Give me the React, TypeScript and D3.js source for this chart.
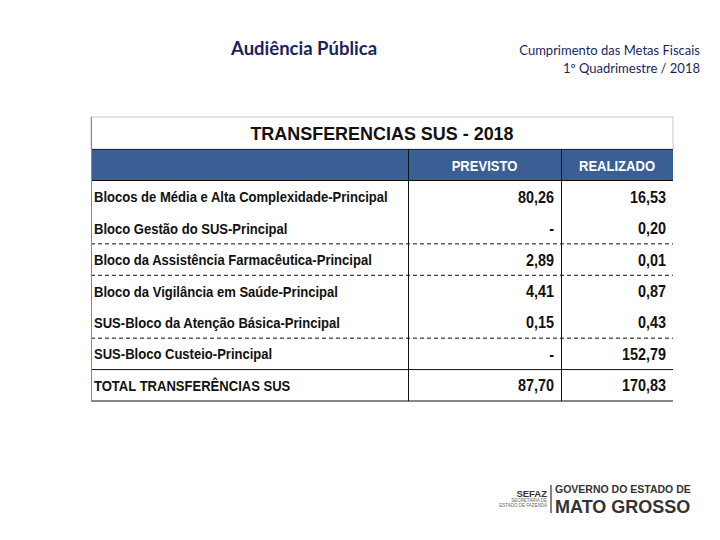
import React from "react";
import * as d3 from "d3";

const title = "TRANSFERENCIAS SUS - 2018";
const columns = ["PREVISTO", "REALIZADO"];
const categories = [
  "Blocos de Média e Alta Complexidade-Principal",
  "Bloco Gestão do SUS-Principal",
  "Bloco da Assistência Farmacêutica-Principal",
  "Bloco da Vigilância em Saúde-Principal",
  "SUS-Bloco da Atenção Básica-Principal",
  "SUS-Bloco Custeio-Principal",
  "TOTAL TRANSFERÊNCIAS SUS",
];
const previsto: (number | null)[] = [80.26, null, 2.89, 4.41, 0.15, null, 87.7];
const realizado: (number | null)[] = [16.53, 0.2, 0.01, 0.87, 0.43, 152.79, 170.83];
const separators = ["none", "dash", "dash", "none", "dash", "solid", "solid"];

const locale = d3.formatLocale({ decimal: ",", thousands: ".", grouping: [3], currency: ["R$", ""] });
const fmt = locale.format(",.2f");

const W = 720;
const H = 540;
const BLUE = "#3A5F94";
const NAVY = "#1c1f5f";
const FONT = "'Liberation Sans', Arial, sans-serif";
const HFONT = "Lato, 'Open Sans', sans-serif";

function NText(props: { x: number; y: number; sx: number; size: number; anchor?: string; fill?: string; children: React.ReactNode }) {
  const { x, y, sx, size, anchor, fill, children } = props;
  return (
    <text
      transform={`translate(${x},${y}) scale(${sx},1)`}
      textAnchor={anchor || "start"}
      fontFamily={FONT}
      fontWeight="bold"
      fontSize={size}
      fill={fill || "#111"}
    >
      {children}
    </text>
  );
}

export default function App() {
  const left = 91;
  const right = 673;
  const top = 117;
  const titleH = 32;
  const headerTop = top + titleH;
  const headerBottom = 181;
  const bottom = 401;

  const x = d3.scaleOrdinal<string, number>().domain(["label", ...columns, "end"]).range([left, 408, 561, right]);
  const y = d3.scaleBand<number>().domain(d3.range(categories.length)).range([headerBottom, bottom]).padding(0);
  const bw = y.bandwidth();

  const numCells = (vals: (number | null)[], col: string, nextCol: string) =>
    vals.map((v, i) => {
      const cy = (y(i) as number) + bw / 2;
      const xr = x(nextCol) - 7;
      return (
        <NText key={col + i} x={xr} y={cy + 6} sx={0.9} size={16} anchor="end">
          {v === null ? "-" : fmt(v)}
        </NText>
      );
    });

  return (
    <svg width={W} height={H} style={{ position: "absolute", left: 0, top: 0, background: "#fff" }}>
      <rect x={0} y={0} width={W} height={H} fill="#fff" />
      {/* page header */}
      <text x={231} y={55} fontFamily={HFONT} fontWeight="bold" fontSize={18.5} fill={NAVY}>
        Audiência Pública
      </text>
      <text x={700} y={55} textAnchor="end" fontFamily={HFONT} fontSize={13} fill={NAVY}>
        Cumprimento das Metas Fiscais
      </text>
      <text x={700} y={73} textAnchor="end" fontFamily={HFONT} fontSize={13} fill={NAVY}>
        1º Quadrimestre / 2018
      </text>

      {/* title row */}
      <rect x={left} y={top} width={right - left} height={titleH} fill="#fff" stroke="#c8c8c8" strokeWidth={1} />
      <NText x={(left + right) / 2} y={top + titleH / 2 + 6.5} sx={0.97} size={18.5} anchor="middle">
        {title}
      </NText>

      {/* header */}
      <rect x={left} y={headerTop} width={right - left} height={headerBottom - headerTop} fill={BLUE} />
      <line x1={left} x2={right} y1={headerTop + 0.5} y2={headerTop + 0.5} stroke="#1a2a40" strokeWidth={1} />
      <line x1={left} x2={right} y1={headerBottom - 0.5} y2={headerBottom - 0.5} stroke="#111" strokeWidth={1} />
      {columns.map((c, i) => {
        const nx = i === 0 ? columns[1] : "end";
        return (
          <NText key={c} x={(x(c) + x(nx)) / 2} y={(headerTop + headerBottom) / 2 + 5.5} sx={0.87} size={15} anchor="middle" fill="#fff">
            {c}
          </NText>
        );
      })}

      {/* rows */}
      {categories.map((c, i) => (
        <NText key={c} x={left + 3} y={(y(i) as number) + bw / 2 + 5.5} sx={0.9} size={14.5}>
          {c}
        </NText>
      ))}
      {numCells(previsto, columns[0], columns[1])}
      {numCells(realizado, columns[1], "end")}

      {/* separators */}
      {separators.map((s, i) => {
        if (s === "none") return null;
        const yy = (y(i) as number) + bw;
        return (
          <line key={"sep" + i} x1={left} x2={right} y1={yy} y2={yy} stroke="#111" strokeWidth={1} strokeDasharray={s === "dash" ? "4 3" : undefined} />
        );
      })}

      {/* verticals */}
      {columns.map((c) => (
        <line key={"v" + c} x1={x(c) + 0.5} x2={x(c) + 0.5} y1={headerTop} y2={bottom} stroke="#111" strokeWidth={1} />
      ))}
      <line x1={left + 0.5} x2={left + 0.5} y1={top} y2={bottom} stroke="#8a8a8a" strokeWidth={1} />

      {/* logo */}
      <text x={547} y={497} textAnchor="end" fontFamily={FONT} fontWeight="bold" fontSize={9.5} fill="#333">SEFAZ</text>
      <text x={547} y={502} textAnchor="end" fontFamily={FONT} fontSize={4.5} fill="#666">SECRETARIA DE</text>
      <text x={547} y={507} textAnchor="end" fontFamily={FONT} fontSize={4.5} fill="#666">ESTADO DE FAZENDA</text>
      <line x1={551} x2={551} y1={485} y2={513} stroke="#333" strokeWidth={1.2} />
      <text x={555} y={493} fontFamily={FONT} fontWeight="bold" fontSize={10.5} fill="#333">GOVERNO DO ESTADO DE</text>
      <text x={555} y={512.5} fontFamily={FONT} fontWeight="bold" fontSize={18} fill="#333">MATO GROSSO</text>
    </svg>
  );
}
